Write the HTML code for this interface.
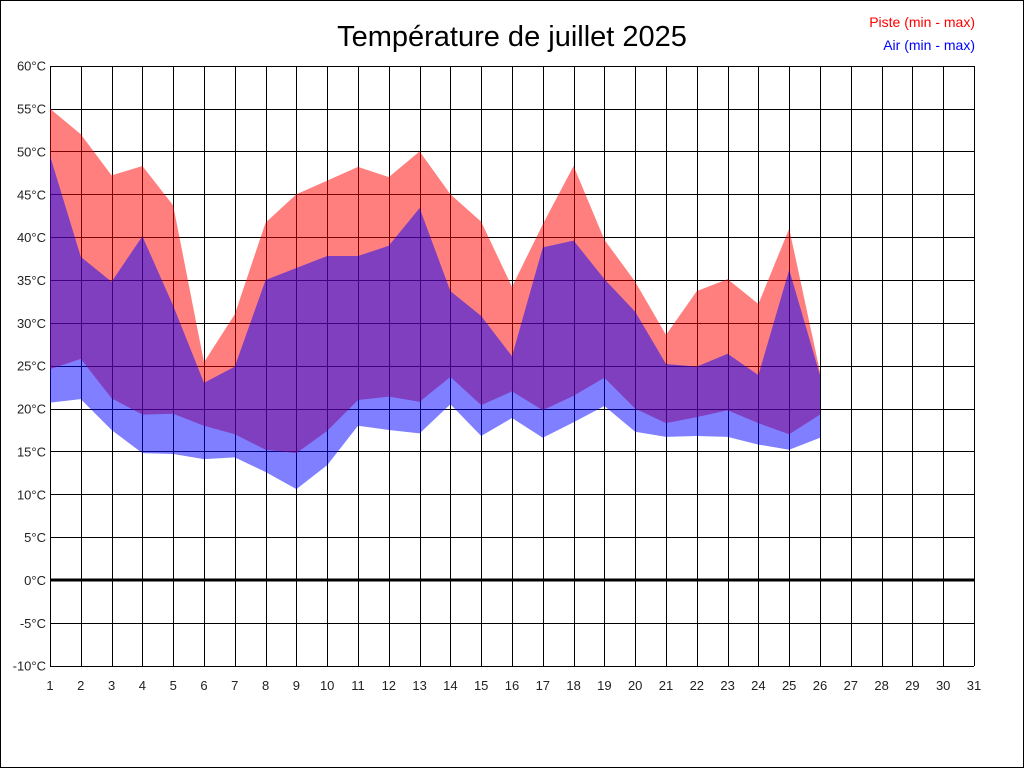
<!DOCTYPE html>
<html><head><meta charset="utf-8"><style>
html,body{margin:0;padding:0;background:#fff;}
svg{display:block;}
text{font-family:"Liberation Sans",sans-serif;}
</style></head><body>
<svg width="1024" height="768" viewBox="0 0 1024 768" xmlns="http://www.w3.org/2000/svg">
<rect x="0.5" y="0.5" width="1023" height="767" fill="#fff" stroke="#000"/>
<g id="grid" stroke="#000" stroke-width="1"></g>
<g id="fills"></g>
<line x1="50" y1="580" x2="974" y2="580" stroke="#000" stroke-width="3"/>
<g id="labels" font-size="13" fill="#222"></g>
<text x="512" y="46" font-size="29" text-anchor="middle" fill="#000">Température de juillet 2025</text>
<text x="975" y="27" font-size="14" text-anchor="end" fill="#ff0000">Piste (min - max)</text>
<text x="975" y="50" font-size="14" text-anchor="end" fill="#0000ff">Air (min - max)</text>
</svg>
<script>
var X=function(d){return 50+(d-1)*30.8;}, Y=function(t){return 580-t*600/70;};
var ns="http://www.w3.org/2000/svg";
var g=document.getElementById('grid'),L=document.getElementById('labels'),F=document.getElementById('fills');
function el(p,n,a,txt){var e=document.createElementNS(ns,n);for(var k in a)e.setAttribute(k,a[k]);if(txt!=null)e.textContent=txt;p.appendChild(e);return e;}
for(var d=1;d<=31;d++){var x=Math.round(X(d))+0.5;el(g,'line',{x1:x,y1:66,x2:x,y2:666});el(L,'text',{x:X(d),y:690,'text-anchor':'middle'},d);}
for(var t=-10;t<=60;t+=5){var y=Math.round(Y(t))+0.5;el(g,'line',{x1:50,y1:y,x2:974,y2:y});el(L,'text',{x:46,y:Y(t)+5,'text-anchor':'end'},t+'°C');}
var pMax=[55,52,47.2,48.3,43.7,25.4,31,41.7,45,46.6,48.2,47,50,45,41.8,34.2,41.5,48.3,39.7,34.8,28.6,33.7,35.1,32.2,41,24.3];
var pMin=[24.6,25.8,21.2,19.3,19.4,18,17,15.2,14.8,17.4,21,21.4,20.8,23.7,20.4,22,19.8,21.5,23.6,20,18.3,19,19.8,18.3,17,19.3];
var aMax=[49.5,37.7,34.8,40.1,32,23,24.9,35,36.4,37.8,37.8,39,43.4,33.7,30.8,26.1,38.8,39.6,35.1,31.3,25.2,24.9,26.4,23.9,36.2,23.9];
var aMin=[20.7,21.1,17.5,14.8,14.7,14.1,14.3,12.6,10.6,13.4,18,17.5,17.1,20.5,16.8,18.9,16.6,18.4,20.3,17.3,16.7,16.8,16.7,15.8,15.2,16.6];
function band(hi,lo,c){var p=[];for(var i=0;i<hi.length;i++)p.push(X(i+1)+','+Y(hi[i]));for(var i=lo.length-1;i>=0;i--)p.push(X(i+1)+','+Y(lo[i]));el(F,'polygon',{points:p.join(' '),fill:c});}
band(pMax,pMin,'rgba(255,0,0,0.5)');
band(aMax,aMin,'rgba(0,0,255,0.5)');
</script>
</body></html>
